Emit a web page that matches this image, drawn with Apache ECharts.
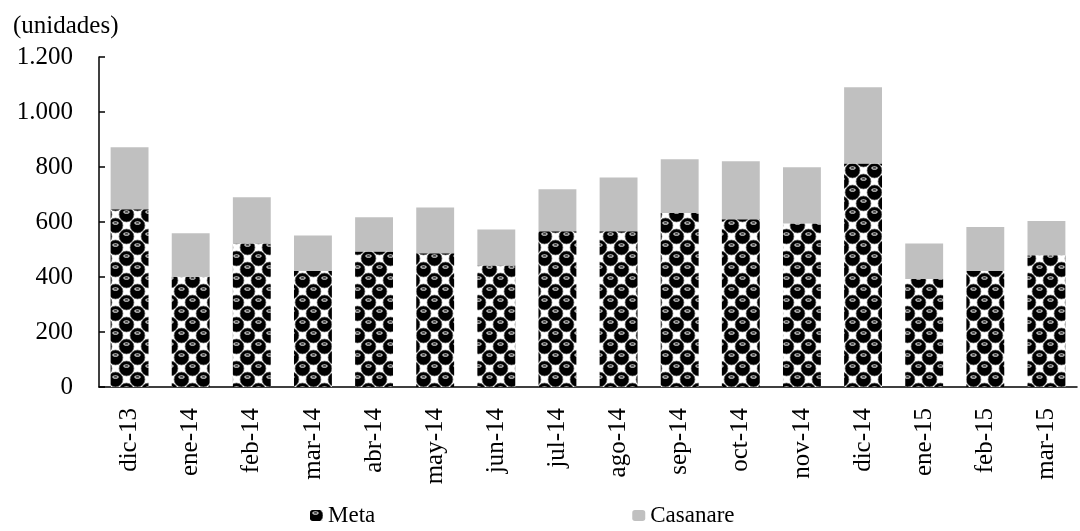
<!DOCTYPE html>
<html>
<head>
<meta charset="utf-8">
<script src="https://cdn.jsdelivr.net/npm/echarts@6/dist/echarts.min.js"></script>
<style>
html,body{margin:0;padding:0;background:#fff;}
#chart{width:1080px;height:531px;}
</style>
</head>
<body>
<div id="chart"></div>
<script>
const categories = ['dic-13','ene-14','feb-14','mar-14','abr-14','may-14','jun-14','jul-14','ago-14','sep-14','oct-14','nov-14','dic-14','ene-15','feb-15','mar-15'];
const meta = [646, 401, 522, 422, 493, 486, 442, 566, 566, 633, 610, 595, 813, 393, 422, 479];
const casanare = [226, 158, 168, 129, 124, 167, 131, 153, 196, 195, 211, 204, 277, 129, 160, 125];
const yTicks = [0, 200, 400, 600, 800, 1000, 1200];
const unitLabel = '(unidades)';

function makePattern() {
  const c = document.createElement('canvas');
  const s = 22;
  c.width = s; c.height = s;
  const g = c.getContext('2d');
  g.fillStyle = '#ffffff';
  g.fillRect(0, 0, s, s);
  const centers = [[5.5, 5.5], [16.5, 16.5], [-5.5, 16.5], [27.5, 5.5], [16.5, -5.5], [5.5, 27.5], [27.5, 27.5], [-5.5, -5.5]];
  centers.forEach(([x, y]) => {
    g.fillStyle = '#000000';
    g.strokeStyle = '#666666';
    g.lineWidth = 0.7;
    g.beginPath();
    g.arc(x, y, 7.4, 0, Math.PI * 2);
    g.fill();
    g.stroke();
  });
  centers.forEach(([x, y]) => {
    g.strokeStyle = '#cfcfcf';
    g.lineWidth = 1.1;
    g.beginPath();
    g.ellipse(x, y - 2.6, 2.6, 1.2, 0, 0, Math.PI * 2);
    g.stroke();
  });
  return c;
}

const font = "'Liberation Serif', 'Times New Roman', serif";
const chart = echarts.init(document.getElementById('chart'));
const fmt = v => String(v).replace(/\B(?=(\d{3})+(?!\d))/g, '.');

chart.setOption({
  animation: false,
  textStyle: { fontFamily: font, color: '#000' },
  title: {
    text: unitLabel, left: 8, top: 9,
    textStyle: { fontFamily: font, fontSize: 25, fontWeight: 'normal', color: '#000' }
  },
  grid: { left: 99, right: 3, top: 57, bottom: 144, containLabel: false },
  legend: {
    data: ['Meta', 'Casanare'],
    left: 305, top: 499,
    itemWidth: 13, itemHeight: 11, itemGap: 257,
    textStyle: { fontFamily: font, fontSize: 23, color: '#000' }
  },
  xAxis: {
    type: 'category', data: categories,
    axisLine: { lineStyle: { color: '#000', width: 1.5 } },
    axisTick: { inside: true, length: 7, lineStyle: { color: '#000', width: 1.5 } },
    axisLabel: { rotate: 90, margin: 21, fontSize: 25, fontFamily: font, color: '#000', interval: 0 }
  },
  yAxis: {
    type: 'value', min: yTicks[0], max: yTicks[yTicks.length - 1], interval: 200,
    splitLine: { show: false },
    axisLine: { show: true, lineStyle: { color: '#000', width: 1.5 } },
    axisTick: { show: true, inside: true, length: 6, lineStyle: { color: '#000', width: 1.5 } },
    axisLabel: { margin: 26, fontSize: 25, fontFamily: font, color: '#000', formatter: fmt }
  },
  series: [
    { name: 'Meta', type: 'bar', stack: 'total', data: meta, barWidth: '62%',
      itemStyle: { color: { image: makePattern(), repeat: 'repeat' } } },
    { name: 'Casanare', type: 'bar', stack: 'total', data: casanare, barWidth: '62%',
      itemStyle: { color: '#c0c0c0' } }
  ]
});
</script>
</body>
</html>
